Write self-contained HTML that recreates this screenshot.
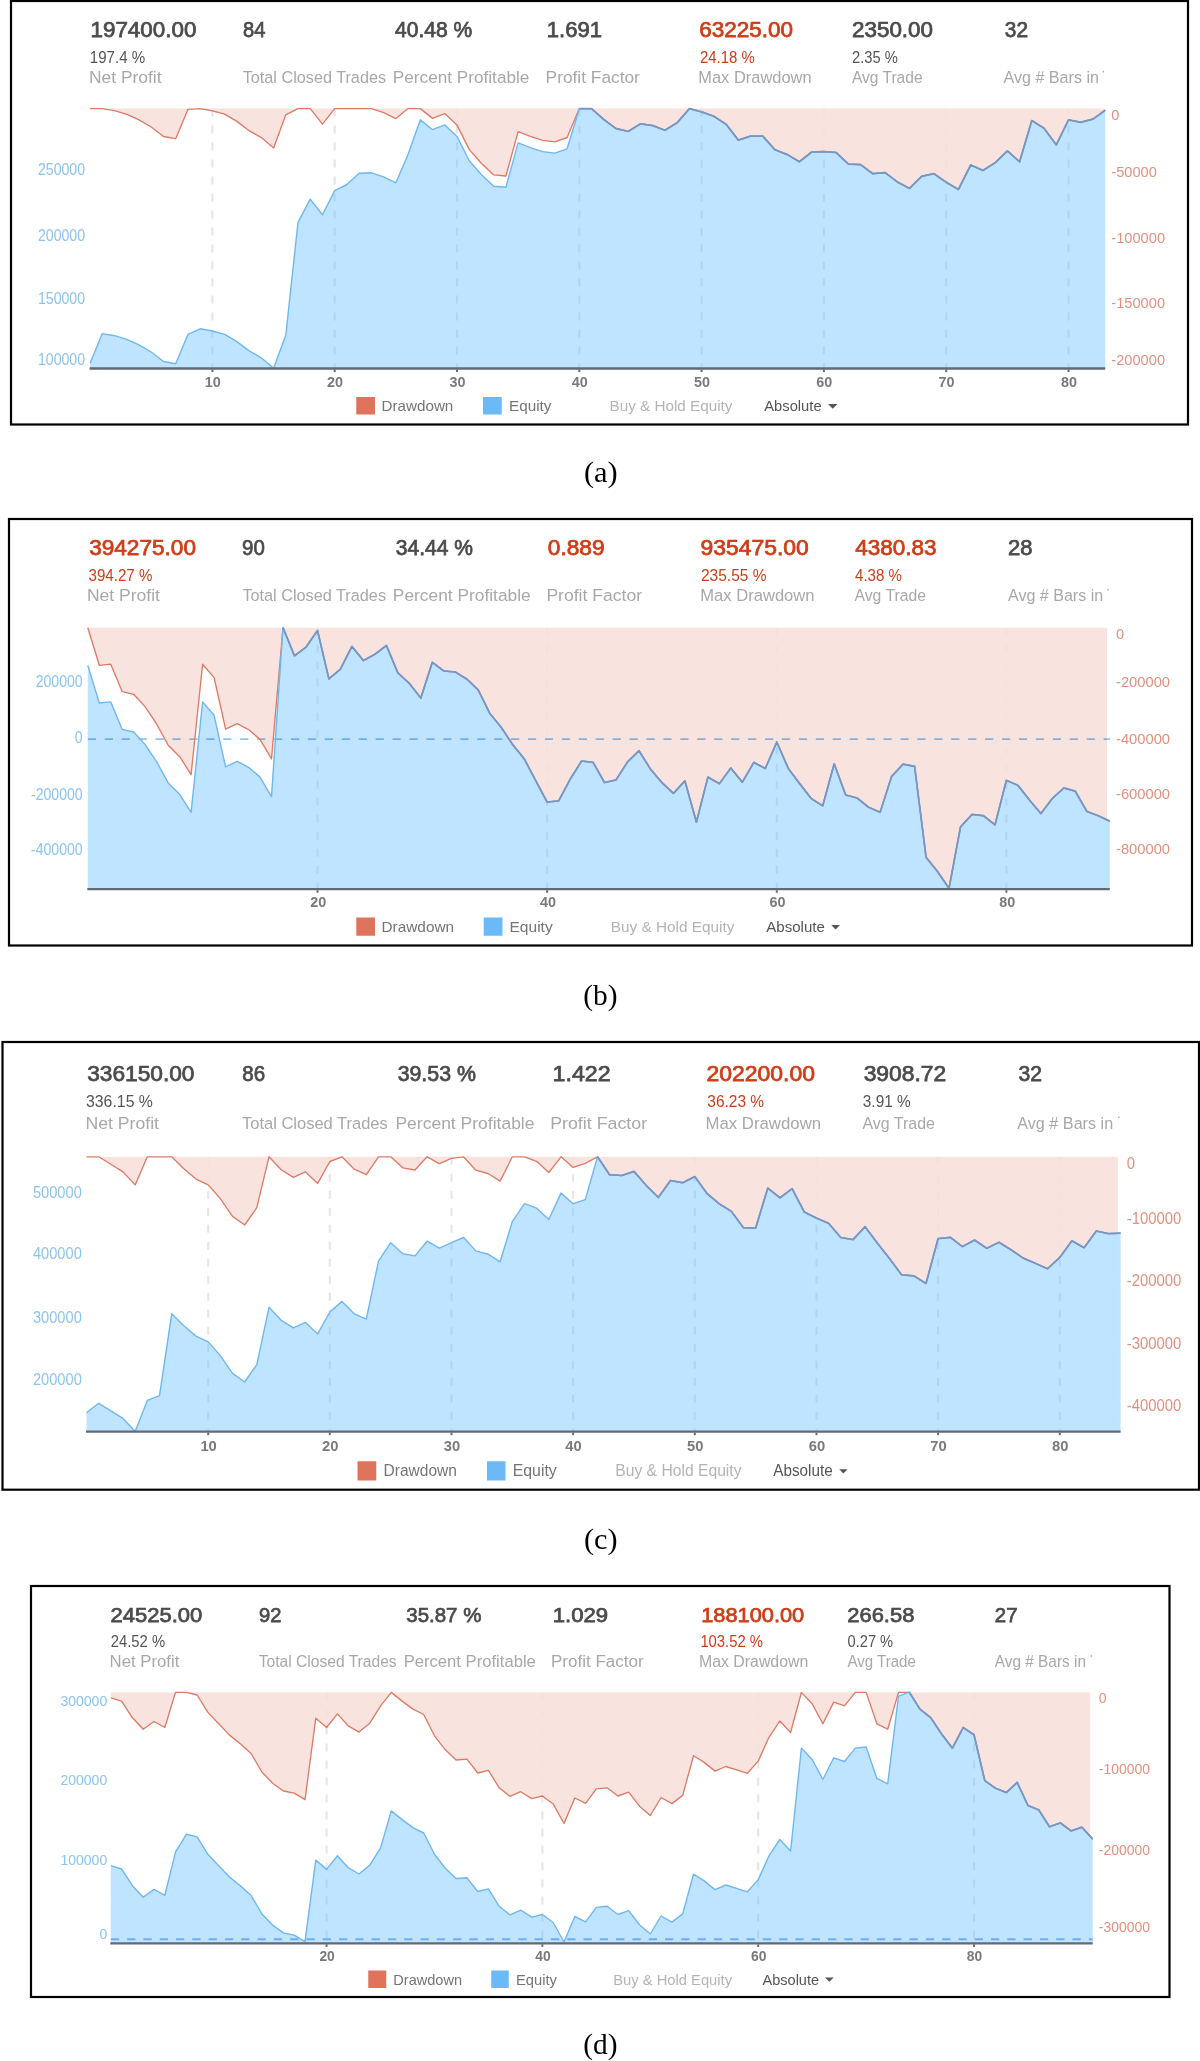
<!DOCTYPE html>
<html lang="en"><head><meta charset="utf-8"><title>Strategy performance: equity and drawdown</title>
<style>html,body{margin:0;padding:0;background:#fff}svg{display:block}text{white-space:pre}</style></head>
<body>
<svg width="1200" height="2061" viewBox="0 0 1200 2061">
<rect width="1200" height="2061" fill="#fff"/>
<g id="panel-a">
<rect x="11.0" y="1.0" width="1177.0" height="423.5" fill="#fff" stroke="#000" stroke-width="2.2"/>
<line x1="212.4" y1="108.6" x2="212.4" y2="368.5" stroke="#e6e6ea" stroke-width="2.1" stroke-dasharray="8 9"/>
<line x1="334.7" y1="108.6" x2="334.7" y2="368.5" stroke="#e6e6ea" stroke-width="2.1" stroke-dasharray="8 9"/>
<line x1="457.0" y1="108.6" x2="457.0" y2="368.5" stroke="#e6e6ea" stroke-width="2.1" stroke-dasharray="8 9"/>
<line x1="579.3" y1="108.6" x2="579.3" y2="368.5" stroke="#e6e6ea" stroke-width="2.1" stroke-dasharray="8 9"/>
<line x1="701.6" y1="108.6" x2="701.6" y2="368.5" stroke="#e6e6ea" stroke-width="2.1" stroke-dasharray="8 9"/>
<line x1="823.9" y1="108.6" x2="823.9" y2="368.5" stroke="#e6e6ea" stroke-width="2.1" stroke-dasharray="8 9"/>
<line x1="946.2" y1="108.6" x2="946.2" y2="368.5" stroke="#e6e6ea" stroke-width="2.1" stroke-dasharray="8 9"/>
<line x1="1068.5" y1="108.6" x2="1068.5" y2="368.5" stroke="#e6e6ea" stroke-width="2.1" stroke-dasharray="8 9"/>
<polygon fill="#f8dfd9" fill-opacity="0.88" points="90.1,108.6 1104.7,108.6 1104.7,110.5 1093.0,119.0 1080.7,122.2 1068.5,119.8 1056.3,144.8 1044.0,128.1 1031.8,120.5 1019.6,161.7 1007.4,150.8 995.1,162.7 982.9,170.3 970.7,164.9 958.4,189.4 946.2,182.2 934.0,173.6 921.7,176.2 909.5,188.3 897.3,181.8 885.1,172.5 872.8,173.6 860.6,164.5 848.4,164.0 836.1,152.4 823.9,151.5 811.7,151.9 799.4,161.7 787.2,154.5 775.0,149.7 762.8,136.1 750.5,136.1 738.3,140.0 726.1,124.2 713.8,116.2 701.6,111.8 689.4,108.6 677.1,122.7 664.9,130.2 652.7,125.5 640.5,123.7 628.2,131.3 616.0,128.5 603.8,119.4 591.5,108.6 579.3,108.6 567.1,137.5 554.8,141.8 542.6,140.3 530.4,136.4 518.1,131.6 505.9,176.0 493.7,174.9 481.5,163.5 469.2,149.4 457.0,125.1 444.8,113.6 432.5,118.4 420.3,108.6 408.1,108.6 395.9,118.6 383.6,112.7 371.4,108.6 359.2,108.6 346.9,108.6 334.7,108.6 322.5,124.2 310.2,108.6 298.0,108.6 285.8,114.8 273.6,148.0 261.3,137.6 249.1,130.7 236.9,121.4 224.6,114.2 212.4,110.8 200.2,108.6 187.9,109.4 175.7,138.7 163.5,136.5 151.2,127.0 139.0,119.8 126.8,114.4 114.6,110.7 102.3,108.6 90.1,108.6"/>
<polygon fill="#66bfff" fill-opacity="0.42" points="90.1,363.3 102.3,333.6 114.6,335.7 126.8,339.4 139.0,344.8 151.2,352.0 163.5,361.5 175.7,363.7 187.9,334.4 200.2,328.8 212.4,331.0 224.6,334.4 236.9,341.6 249.1,350.9 261.3,357.8 273.6,368.2 285.8,335.0 298.0,222.4 310.2,199.2 322.5,214.8 334.7,190.6 346.9,184.5 359.2,173.2 371.4,172.8 383.6,176.9 395.9,182.8 408.1,154.2 420.3,119.9 432.5,129.7 444.8,124.9 457.0,136.4 469.2,160.7 481.5,174.8 493.7,186.2 505.9,187.3 518.1,142.9 530.4,147.7 542.6,151.6 554.8,153.1 567.1,148.8 579.3,108.7 591.5,108.7 603.8,119.5 616.0,128.6 628.2,131.4 640.5,123.8 652.7,125.6 664.9,130.3 677.1,122.8 689.4,108.7 701.6,111.9 713.8,116.3 726.1,124.3 738.3,140.1 750.5,136.2 762.8,136.2 775.0,149.8 787.2,154.6 799.4,161.8 811.7,152.0 823.9,151.6 836.1,152.5 848.4,164.1 860.6,164.6 872.8,173.7 885.1,172.6 897.3,181.9 909.5,188.4 921.7,176.3 934.0,173.7 946.2,182.3 958.4,189.5 970.7,165.0 982.9,170.4 995.1,162.8 1007.4,150.9 1019.6,161.8 1031.8,120.6 1044.0,128.2 1056.3,144.9 1068.5,119.9 1080.7,122.3 1093.0,119.1 1105.2,110.2 1105.2,110.2 1105.2,368.5 90.1,368.5"/>
<polyline fill="none" stroke="#de7b67" stroke-width="1.35" stroke-linejoin="round" points="90.1,108.6 102.3,108.6 114.6,110.7 126.8,114.4 139.0,119.8 151.2,127.0 163.5,136.5 175.7,138.7 187.9,109.4 200.2,108.6 212.4,110.8 224.6,114.2 236.9,121.4 249.1,130.7 261.3,137.6 273.6,148.0 285.8,114.8 298.0,108.6 310.2,108.6 322.5,124.2 334.7,108.6 346.9,108.6 359.2,108.6 371.4,108.6 383.6,112.7 395.9,118.6 408.1,108.6 420.3,108.6 432.5,118.4 444.8,113.6 457.0,125.1 469.2,149.4 481.5,163.5 493.7,174.9 505.9,176.0 518.1,131.6 530.4,136.4 542.6,140.3 554.8,141.8 567.1,137.5 579.3,108.6 591.5,108.6 603.8,119.4 616.0,128.5 628.2,131.3 640.5,123.7 652.7,125.5 664.9,130.2 677.1,122.7 689.4,108.6 701.6,111.8 713.8,116.2 726.1,124.2 738.3,140.0 750.5,136.1 762.8,136.1 775.0,149.7 787.2,154.5 799.4,161.7 811.7,151.9 823.9,151.5 836.1,152.4 848.4,164.0 860.6,164.5 872.8,173.6 885.1,172.5 897.3,181.8 909.5,188.3 921.7,176.2 934.0,173.6 946.2,182.2 958.4,189.4 970.7,164.9 982.9,170.3 995.1,162.7 1007.4,150.8 1019.6,161.7 1031.8,120.5 1044.0,128.1 1056.3,144.8 1068.5,119.8 1080.7,122.2 1093.0,119.0 1105.2,110.1"/>
<polyline fill="none" stroke="#6fb7f3" stroke-width="1.4" stroke-linejoin="round" points="90.1,363.3 102.3,333.6 114.6,335.7 126.8,339.4 139.0,344.8 151.2,352.0 163.5,361.5 175.7,363.7 187.9,334.4 200.2,328.8 212.4,331.0 224.6,334.4 236.9,341.6 249.1,350.9 261.3,357.8 273.6,368.2 285.8,335.0 298.0,222.4 310.2,199.2 322.5,214.8 334.7,190.6 346.9,184.5 359.2,173.2 371.4,172.8 383.6,176.9 395.9,182.8 408.1,154.2 420.3,119.9 432.5,129.7 444.8,124.9 457.0,136.4 469.2,160.7 481.5,174.8 493.7,186.2 505.9,187.3 518.1,142.9 530.4,147.7 542.6,151.6 554.8,153.1 567.1,148.8 579.3,108.7 591.5,108.7 603.8,119.5 616.0,128.6 628.2,131.4 640.5,123.8 652.7,125.6 664.9,130.3 677.1,122.8 689.4,108.7 701.6,111.9 713.8,116.3 726.1,124.3 738.3,140.1 750.5,136.2 762.8,136.2 775.0,149.8 787.2,154.6 799.4,161.8 811.7,152.0 823.9,151.6 836.1,152.5 848.4,164.1 860.6,164.6 872.8,173.7 885.1,172.6 897.3,181.9 909.5,188.4 921.7,176.3 934.0,173.7 946.2,182.3 958.4,189.5 970.7,165.0 982.9,170.4 995.1,162.8 1007.4,150.9 1019.6,161.8 1031.8,120.6 1044.0,128.2 1056.3,144.9 1068.5,119.9 1080.7,122.3 1093.0,119.1 1105.2,110.2 1105.2,110.2"/>
<polyline fill="none" stroke="#7796c5" stroke-width="1.75" stroke-linejoin="round" points="579.3,108.7 591.5,108.7 603.8,119.5 616.0,128.6 628.2,131.4 640.5,123.8 652.7,125.6 664.9,130.3 677.1,122.8 689.4,108.7 701.6,111.9 713.8,116.3 726.1,124.3 738.3,140.1 750.5,136.2 762.8,136.2 775.0,149.8 787.2,154.6 799.4,161.8 811.7,152.0 823.9,151.6 836.1,152.5 848.4,164.1 860.6,164.6 872.8,173.7 885.1,172.6 897.3,181.9 909.5,188.4 921.7,176.3 934.0,173.7 946.2,182.3 958.4,189.5 970.7,165.0 982.9,170.4 995.1,162.8 1007.4,150.9 1019.6,161.8 1031.8,120.6 1044.0,128.2 1056.3,144.9 1068.5,119.9 1080.7,122.3 1093.0,119.1 1105.2,110.2"/>
<line x1="89.6" y1="368.5" x2="1105.2" y2="368.5" stroke="#626a73" stroke-width="2.3"/>
<line x1="212.4" y1="369.5" x2="212.4" y2="372.1" stroke="#6a6e74" stroke-width="2"/>
<line x1="334.7" y1="369.5" x2="334.7" y2="372.1" stroke="#6a6e74" stroke-width="2"/>
<line x1="457.0" y1="369.5" x2="457.0" y2="372.1" stroke="#6a6e74" stroke-width="2"/>
<line x1="579.3" y1="369.5" x2="579.3" y2="372.1" stroke="#6a6e74" stroke-width="2"/>
<line x1="701.6" y1="369.5" x2="701.6" y2="372.1" stroke="#6a6e74" stroke-width="2"/>
<line x1="823.9" y1="369.5" x2="823.9" y2="372.1" stroke="#6a6e74" stroke-width="2"/>
<line x1="946.2" y1="369.5" x2="946.2" y2="372.1" stroke="#6a6e74" stroke-width="2"/>
<line x1="1068.5" y1="369.5" x2="1068.5" y2="372.1" stroke="#6a6e74" stroke-width="2"/>
<rect x="356.25" y="397" width="18.75" height="17.50" fill="#e0735c"/>
<rect x="483" y="397" width="18.75" height="17.50" fill="#6bbaf7"/>
<polygon fill="#555" points="828,403.9 837.5,403.9 832.75,408.7"/>
<rect x="1102.7" y="70.8" width="1.4" height="1.6" fill="#a8a8a8"/>
</g>
<g id="panel-b">
<rect x="9.0" y="519.0" width="1183.0" height="426.5" fill="#fff" stroke="#000" stroke-width="2.2"/>
<line x1="317.5" y1="627.8" x2="317.5" y2="889.2" stroke="#e6e6ea" stroke-width="2.1" stroke-dasharray="8 9"/>
<line x1="547.1" y1="627.8" x2="547.1" y2="889.2" stroke="#e6e6ea" stroke-width="2.1" stroke-dasharray="8 9"/>
<line x1="776.8" y1="627.8" x2="776.8" y2="889.2" stroke="#e6e6ea" stroke-width="2.1" stroke-dasharray="8 9"/>
<line x1="1006.4" y1="627.8" x2="1006.4" y2="889.2" stroke="#e6e6ea" stroke-width="2.1" stroke-dasharray="8 9"/>
<polygon fill="#f8dfd9" fill-opacity="0.88" points="87.8,627.8 1107.0,627.8 1107.0,820.0 1098.3,815.9 1086.8,811.5 1075.3,791.4 1063.9,788.1 1052.4,798.5 1040.9,813.7 1029.4,800.1 1017.9,785.5 1006.4,780.5 995.0,825.0 983.5,815.9 972.0,814.6 960.5,827.1 949.0,888.5 937.5,871.6 926.1,857.5 914.6,766.5 903.1,764.3 891.6,776.6 880.1,812.4 868.6,807.4 857.2,798.2 845.7,795.2 834.2,764.0 822.7,806.0 811.2,798.7 799.7,783.8 788.3,768.6 776.8,742.2 765.3,768.6 753.8,762.6 742.3,782.3 730.8,768.2 719.4,783.8 707.9,777.3 696.4,822.2 684.9,781.0 673.4,793.5 661.9,782.7 650.5,769.3 639.0,750.9 627.5,762.1 616.0,780.1 604.5,782.7 593.1,762.5 581.6,761.2 570.1,779.5 558.6,801.1 547.1,802.2 535.6,780.5 524.2,758.9 512.7,744.8 501.2,727.5 489.7,713.4 478.2,690.0 466.7,679.1 455.3,672.2 443.8,671.1 432.3,662.5 420.8,698.2 409.3,683.5 397.8,672.9 386.4,645.6 374.9,654.4 363.4,660.7 351.9,646.6 340.4,669.3 328.9,679.1 317.5,630.6 306.0,647.3 294.5,656.0 283.0,627.8 271.5,758.9 260.0,739.4 248.6,729.6 237.1,723.6 225.6,729.2 214.1,677.6 202.6,664.2 191.1,774.7 179.7,756.7 168.2,745.2 156.7,724.2 145.2,706.9 133.7,694.3 122.2,691.7 110.8,664.2 99.3,665.3 87.8,627.8"/>
<polygon fill="#66bfff" fill-opacity="0.42" points="87.8,665.5 99.3,703.0 110.8,701.9 122.2,729.4 133.7,732.0 145.2,744.6 156.7,761.9 168.2,782.9 179.7,794.4 191.1,812.4 202.6,701.9 214.1,715.3 225.6,766.9 237.1,761.3 248.6,767.3 260.0,777.1 271.5,796.6 283.0,627.6 294.5,655.8 306.0,647.1 317.5,630.4 328.9,678.9 340.4,669.1 351.9,646.4 363.4,660.5 374.9,654.2 386.4,645.4 397.8,672.7 409.3,683.3 420.8,698.0 432.3,662.3 443.8,670.9 455.3,672.0 466.7,678.9 478.2,689.8 489.7,713.2 501.2,727.3 512.7,744.6 524.2,758.7 535.6,780.3 547.1,802.0 558.6,800.9 570.1,779.3 581.6,761.0 593.1,762.3 604.5,782.5 616.0,779.9 627.5,761.9 639.0,750.7 650.5,769.1 661.9,782.5 673.4,793.3 684.9,780.8 696.4,822.0 707.9,777.1 719.4,783.6 730.8,768.0 742.3,782.1 753.8,762.4 765.3,768.4 776.8,742.0 788.3,768.4 799.7,783.6 811.2,798.5 822.7,805.8 834.2,763.8 845.7,795.0 857.2,798.0 868.6,807.2 880.1,812.2 891.6,776.4 903.1,764.1 914.6,766.3 926.1,857.3 937.5,871.4 949.0,888.3 960.5,826.9 972.0,814.4 983.5,815.7 995.0,824.8 1006.4,780.3 1017.9,785.3 1029.4,799.9 1040.9,813.5 1052.4,798.3 1063.9,787.9 1075.3,791.2 1086.8,811.3 1098.3,815.7 1109.8,821.1 1109.8,821.1 1109.8,889.2 87.8,889.2"/>
<line x1="87.8" y1="739.1" x2="1109.8" y2="739.1" stroke="#8cc3fa" stroke-width="1.9" stroke-dasharray="8.2 8.73" style="mix-blend-mode:multiply"/>
<polyline fill="none" stroke="#de7b67" stroke-width="1.35" stroke-linejoin="round" points="87.8,627.8 99.3,665.3 110.8,664.2 122.2,691.7 133.7,694.3 145.2,706.9 156.7,724.2 168.2,745.2 179.7,756.7 191.1,774.7 202.6,664.2 214.1,677.6 225.6,729.2 237.1,723.6 248.6,729.6 260.0,739.4 271.5,758.9 283.0,627.8 294.5,656.0 306.0,647.3 317.5,630.6 328.9,679.1 340.4,669.3 351.9,646.6 363.4,660.7 374.9,654.4 386.4,645.6 397.8,672.9 409.3,683.5 420.8,698.2 432.3,662.5 443.8,671.1 455.3,672.2 466.7,679.1 478.2,690.0 489.7,713.4 501.2,727.5 512.7,744.8 524.2,758.9 535.6,780.5 547.1,802.2 558.6,801.1 570.1,779.5 581.6,761.2 593.1,762.5 604.5,782.7 616.0,780.1 627.5,762.1 639.0,750.9 650.5,769.3 661.9,782.7 673.4,793.5 684.9,781.0 696.4,822.2 707.9,777.3 719.4,783.8 730.8,768.2 742.3,782.3 753.8,762.6 765.3,768.6 776.8,742.2 788.3,768.6 799.7,783.8 811.2,798.7 822.7,806.0 834.2,764.0 845.7,795.2 857.2,798.2 868.6,807.4 880.1,812.4 891.6,776.6 903.1,764.3 914.6,766.5 926.1,857.5 937.5,871.6 949.0,888.5 960.5,827.1 972.0,814.6 983.5,815.9 995.0,825.0 1006.4,780.5 1017.9,785.5 1029.4,800.1 1040.9,813.7 1052.4,798.5 1063.9,788.1 1075.3,791.4 1086.8,811.5 1098.3,815.9 1109.8,821.3"/>
<polyline fill="none" stroke="#6fb7f3" stroke-width="1.4" stroke-linejoin="round" points="87.8,665.5 99.3,703.0 110.8,701.9 122.2,729.4 133.7,732.0 145.2,744.6 156.7,761.9 168.2,782.9 179.7,794.4 191.1,812.4 202.6,701.9 214.1,715.3 225.6,766.9 237.1,761.3 248.6,767.3 260.0,777.1 271.5,796.6 283.0,627.6 294.5,655.8 306.0,647.1 317.5,630.4 328.9,678.9 340.4,669.1 351.9,646.4 363.4,660.5 374.9,654.2 386.4,645.4 397.8,672.7 409.3,683.3 420.8,698.0 432.3,662.3 443.8,670.9 455.3,672.0 466.7,678.9 478.2,689.8 489.7,713.2 501.2,727.3 512.7,744.6 524.2,758.7 535.6,780.3 547.1,802.0 558.6,800.9 570.1,779.3 581.6,761.0 593.1,762.3 604.5,782.5 616.0,779.9 627.5,761.9 639.0,750.7 650.5,769.1 661.9,782.5 673.4,793.3 684.9,780.8 696.4,822.0 707.9,777.1 719.4,783.6 730.8,768.0 742.3,782.1 753.8,762.4 765.3,768.4 776.8,742.0 788.3,768.4 799.7,783.6 811.2,798.5 822.7,805.8 834.2,763.8 845.7,795.0 857.2,798.0 868.6,807.2 880.1,812.2 891.6,776.4 903.1,764.1 914.6,766.3 926.1,857.3 937.5,871.4 949.0,888.3 960.5,826.9 972.0,814.4 983.5,815.7 995.0,824.8 1006.4,780.3 1017.9,785.3 1029.4,799.9 1040.9,813.5 1052.4,798.3 1063.9,787.9 1075.3,791.2 1086.8,811.3 1098.3,815.7 1109.8,821.1 1109.8,821.1"/>
<polyline fill="none" stroke="#7796c5" stroke-width="1.75" stroke-linejoin="round" points="283.0,627.6 294.5,655.8 306.0,647.1 317.5,630.4 328.9,678.9 340.4,669.1 351.9,646.4 363.4,660.5 374.9,654.2 386.4,645.4 397.8,672.7 409.3,683.3 420.8,698.0 432.3,662.3 443.8,670.9 455.3,672.0 466.7,678.9 478.2,689.8 489.7,713.2 501.2,727.3 512.7,744.6 524.2,758.7 535.6,780.3 547.1,802.0 558.6,800.9 570.1,779.3 581.6,761.0 593.1,762.3 604.5,782.5 616.0,779.9 627.5,761.9 639.0,750.7 650.5,769.1 661.9,782.5 673.4,793.3 684.9,780.8 696.4,822.0 707.9,777.1 719.4,783.6 730.8,768.0 742.3,782.1 753.8,762.4 765.3,768.4 776.8,742.0 788.3,768.4 799.7,783.6 811.2,798.5 822.7,805.8 834.2,763.8 845.7,795.0 857.2,798.0 868.6,807.2 880.1,812.2 891.6,776.4 903.1,764.1 914.6,766.3 926.1,857.3 937.5,871.4 949.0,888.3 960.5,826.9 972.0,814.4 983.5,815.7 995.0,824.8 1006.4,780.3 1017.9,785.3 1029.4,799.9 1040.9,813.5 1052.4,798.3 1063.9,787.9 1075.3,791.2 1086.8,811.3 1098.3,815.7 1109.8,821.1"/>
<line x1="87.3" y1="889.2" x2="1109.8" y2="889.2" stroke="#626a73" stroke-width="2.3"/>
<line x1="317.5" y1="890.2" x2="317.5" y2="892.8" stroke="#6a6e74" stroke-width="2"/>
<line x1="547.1" y1="890.2" x2="547.1" y2="892.8" stroke="#6a6e74" stroke-width="2"/>
<line x1="776.8" y1="890.2" x2="776.8" y2="892.8" stroke="#6a6e74" stroke-width="2"/>
<line x1="1006.4" y1="890.2" x2="1006.4" y2="892.8" stroke="#6a6e74" stroke-width="2"/>
<rect x="356.25" y="917.5" width="18.75" height="18.25" fill="#e0735c"/>
<rect x="483.75" y="917.5" width="18.75" height="18.25" fill="#6bbaf7"/>
<polygon fill="#555" points="831.25,925 840,925 835.62,929.6"/>
<rect x="1107.2" y="588.8" width="1.4" height="1.6" fill="#a8a8a8"/>
</g>
<g id="panel-c">
<rect x="2.5" y="1042.0" width="1196.5" height="447.7" fill="#fff" stroke="#000" stroke-width="2.2"/>
<line x1="208.2" y1="1156.8" x2="208.2" y2="1431.6" stroke="#e6e6ea" stroke-width="2.1" stroke-dasharray="8 9"/>
<line x1="329.8" y1="1156.8" x2="329.8" y2="1431.6" stroke="#e6e6ea" stroke-width="2.1" stroke-dasharray="8 9"/>
<line x1="451.5" y1="1156.8" x2="451.5" y2="1431.6" stroke="#e6e6ea" stroke-width="2.1" stroke-dasharray="8 9"/>
<line x1="573.1" y1="1156.8" x2="573.1" y2="1431.6" stroke="#e6e6ea" stroke-width="2.1" stroke-dasharray="8 9"/>
<line x1="694.8" y1="1156.8" x2="694.8" y2="1431.6" stroke="#e6e6ea" stroke-width="2.1" stroke-dasharray="8 9"/>
<line x1="816.5" y1="1156.8" x2="816.5" y2="1431.6" stroke="#e6e6ea" stroke-width="2.1" stroke-dasharray="8 9"/>
<line x1="938.1" y1="1156.8" x2="938.1" y2="1431.6" stroke="#e6e6ea" stroke-width="2.1" stroke-dasharray="8 9"/>
<line x1="1059.8" y1="1156.8" x2="1059.8" y2="1431.6" stroke="#e6e6ea" stroke-width="2.1" stroke-dasharray="8 9"/>
<polygon fill="#f8dfd9" fill-opacity="0.88" points="86.5,1156.8 1117.8,1156.8 1117.8,1233.4 1108.4,1233.7 1096.3,1231.1 1084.1,1247.8 1071.9,1240.8 1059.8,1257.5 1047.6,1268.8 1035.4,1263.4 1023.3,1258.2 1011.1,1249.9 999.0,1242.4 986.8,1248.4 974.6,1240.2 962.5,1246.7 950.3,1237.4 938.1,1238.7 926.0,1283.5 913.8,1275.9 901.6,1274.9 889.5,1258.6 877.3,1243.1 865.1,1226.8 853.0,1239.7 840.8,1237.6 828.6,1223.4 816.5,1218.2 804.3,1212.1 792.1,1188.7 780.0,1197.9 767.8,1188.2 755.6,1228.3 743.5,1227.8 731.3,1211.4 719.1,1203.8 707.0,1193.6 694.8,1176.7 682.6,1182.8 670.5,1180.6 658.3,1197.5 646.1,1185.4 634.0,1171.5 621.8,1175.6 609.6,1174.8 597.5,1156.8 585.3,1163.3 573.1,1167.4 561.0,1156.8 548.8,1172.6 536.6,1161.3 524.5,1156.8 512.3,1156.8 500.1,1181.1 488.0,1173.5 475.8,1170.2 463.6,1156.8 451.5,1158.3 439.3,1163.7 427.1,1156.8 415.0,1170.0 402.8,1167.8 390.7,1156.8 378.5,1156.8 366.3,1174.6 354.2,1169.2 342.0,1156.8 329.8,1161.5 317.7,1183.4 305.5,1171.9 293.3,1177.4 281.2,1169.8 269.0,1156.8 256.8,1207.7 244.7,1225.0 232.5,1216.4 220.3,1198.6 208.2,1184.9 196.0,1179.1 183.8,1168.7 171.7,1156.8 159.5,1156.8 147.3,1156.8 135.2,1184.9 123.0,1171.9 110.8,1164.3 98.7,1156.8 86.5,1156.8"/>
<polygon fill="#66bfff" fill-opacity="0.42" points="86.5,1412.8 98.7,1403.3 110.8,1410.8 123.0,1418.4 135.2,1431.4 147.3,1400.4 159.5,1395.7 171.7,1313.8 183.8,1325.7 196.0,1336.1 208.2,1341.9 220.3,1355.6 232.5,1373.4 244.7,1382.0 256.8,1364.7 269.0,1307.3 281.2,1320.3 293.3,1327.9 305.5,1322.4 317.7,1333.9 329.8,1312.0 342.0,1301.4 354.2,1313.8 366.3,1319.2 378.5,1261.1 390.7,1242.7 402.8,1253.7 415.0,1255.9 427.1,1241.2 439.3,1248.1 451.5,1242.7 463.6,1237.5 475.8,1250.9 488.0,1254.2 500.1,1261.8 512.3,1221.7 524.5,1203.7 536.6,1208.2 548.8,1219.5 561.0,1193.1 573.1,1203.7 585.3,1199.6 597.5,1156.7 609.6,1174.7 621.8,1175.5 634.0,1171.4 646.1,1185.3 658.3,1197.4 670.5,1180.5 682.6,1182.7 694.8,1176.6 707.0,1193.5 719.1,1203.7 731.3,1211.3 743.5,1227.7 755.6,1228.2 767.8,1188.1 780.0,1197.8 792.1,1188.6 804.3,1212.0 816.5,1218.1 828.6,1223.3 840.8,1237.5 853.0,1239.6 865.1,1226.7 877.3,1243.0 889.5,1258.5 901.6,1274.8 913.8,1275.8 926.0,1283.4 938.1,1238.6 950.3,1237.3 962.5,1246.6 974.6,1240.1 986.8,1248.3 999.0,1242.3 1011.1,1249.8 1023.3,1258.1 1035.4,1263.3 1047.6,1268.7 1059.8,1257.4 1071.9,1240.7 1084.1,1247.7 1096.3,1231.0 1108.4,1233.6 1120.6,1233.2 1120.6,1233.2 1120.6,1431.6 86.5,1431.6"/>
<polyline fill="none" stroke="#de7b67" stroke-width="1.35" stroke-linejoin="round" points="86.5,1156.8 98.7,1156.8 110.8,1164.3 123.0,1171.9 135.2,1184.9 147.3,1156.8 159.5,1156.8 171.7,1156.8 183.8,1168.7 196.0,1179.1 208.2,1184.9 220.3,1198.6 232.5,1216.4 244.7,1225.0 256.8,1207.7 269.0,1156.8 281.2,1169.8 293.3,1177.4 305.5,1171.9 317.7,1183.4 329.8,1161.5 342.0,1156.8 354.2,1169.2 366.3,1174.6 378.5,1156.8 390.7,1156.8 402.8,1167.8 415.0,1170.0 427.1,1156.8 439.3,1163.7 451.5,1158.3 463.6,1156.8 475.8,1170.2 488.0,1173.5 500.1,1181.1 512.3,1156.8 524.5,1156.8 536.6,1161.3 548.8,1172.6 561.0,1156.8 573.1,1167.4 585.3,1163.3 597.5,1156.8 609.6,1174.8 621.8,1175.6 634.0,1171.5 646.1,1185.4 658.3,1197.5 670.5,1180.6 682.6,1182.8 694.8,1176.7 707.0,1193.6 719.1,1203.8 731.3,1211.4 743.5,1227.8 755.6,1228.3 767.8,1188.2 780.0,1197.9 792.1,1188.7 804.3,1212.1 816.5,1218.2 828.6,1223.4 840.8,1237.6 853.0,1239.7 865.1,1226.8 877.3,1243.1 889.5,1258.6 901.6,1274.9 913.8,1275.9 926.0,1283.5 938.1,1238.7 950.3,1237.4 962.5,1246.7 974.6,1240.2 986.8,1248.4 999.0,1242.4 1011.1,1249.9 1023.3,1258.2 1035.4,1263.4 1047.6,1268.8 1059.8,1257.5 1071.9,1240.8 1084.1,1247.8 1096.3,1231.1 1108.4,1233.7 1120.6,1233.3"/>
<polyline fill="none" stroke="#6fb7f3" stroke-width="1.4" stroke-linejoin="round" points="86.5,1412.8 98.7,1403.3 110.8,1410.8 123.0,1418.4 135.2,1431.4 147.3,1400.4 159.5,1395.7 171.7,1313.8 183.8,1325.7 196.0,1336.1 208.2,1341.9 220.3,1355.6 232.5,1373.4 244.7,1382.0 256.8,1364.7 269.0,1307.3 281.2,1320.3 293.3,1327.9 305.5,1322.4 317.7,1333.9 329.8,1312.0 342.0,1301.4 354.2,1313.8 366.3,1319.2 378.5,1261.1 390.7,1242.7 402.8,1253.7 415.0,1255.9 427.1,1241.2 439.3,1248.1 451.5,1242.7 463.6,1237.5 475.8,1250.9 488.0,1254.2 500.1,1261.8 512.3,1221.7 524.5,1203.7 536.6,1208.2 548.8,1219.5 561.0,1193.1 573.1,1203.7 585.3,1199.6 597.5,1156.7 609.6,1174.7 621.8,1175.5 634.0,1171.4 646.1,1185.3 658.3,1197.4 670.5,1180.5 682.6,1182.7 694.8,1176.6 707.0,1193.5 719.1,1203.7 731.3,1211.3 743.5,1227.7 755.6,1228.2 767.8,1188.1 780.0,1197.8 792.1,1188.6 804.3,1212.0 816.5,1218.1 828.6,1223.3 840.8,1237.5 853.0,1239.6 865.1,1226.7 877.3,1243.0 889.5,1258.5 901.6,1274.8 913.8,1275.8 926.0,1283.4 938.1,1238.6 950.3,1237.3 962.5,1246.6 974.6,1240.1 986.8,1248.3 999.0,1242.3 1011.1,1249.8 1023.3,1258.1 1035.4,1263.3 1047.6,1268.7 1059.8,1257.4 1071.9,1240.7 1084.1,1247.7 1096.3,1231.0 1108.4,1233.6 1120.6,1233.2 1120.6,1233.2"/>
<polyline fill="none" stroke="#7796c5" stroke-width="1.75" stroke-linejoin="round" points="597.5,1156.7 609.6,1174.7 621.8,1175.5 634.0,1171.4 646.1,1185.3 658.3,1197.4 670.5,1180.5 682.6,1182.7 694.8,1176.6 707.0,1193.5 719.1,1203.7 731.3,1211.3 743.5,1227.7 755.6,1228.2 767.8,1188.1 780.0,1197.8 792.1,1188.6 804.3,1212.0 816.5,1218.1 828.6,1223.3 840.8,1237.5 853.0,1239.6 865.1,1226.7 877.3,1243.0 889.5,1258.5 901.6,1274.8 913.8,1275.8 926.0,1283.4 938.1,1238.6 950.3,1237.3 962.5,1246.6 974.6,1240.1 986.8,1248.3 999.0,1242.3 1011.1,1249.8 1023.3,1258.1 1035.4,1263.3 1047.6,1268.7 1059.8,1257.4 1071.9,1240.7 1084.1,1247.7 1096.3,1231.0 1108.4,1233.6 1120.6,1233.2"/>
<line x1="86.0" y1="1431.6" x2="1120.6" y2="1431.6" stroke="#626a73" stroke-width="2.3"/>
<line x1="208.2" y1="1432.6" x2="208.2" y2="1435.2" stroke="#6a6e74" stroke-width="2"/>
<line x1="329.8" y1="1432.6" x2="329.8" y2="1435.2" stroke="#6a6e74" stroke-width="2"/>
<line x1="451.5" y1="1432.6" x2="451.5" y2="1435.2" stroke="#6a6e74" stroke-width="2"/>
<line x1="573.1" y1="1432.6" x2="573.1" y2="1435.2" stroke="#6a6e74" stroke-width="2"/>
<line x1="694.8" y1="1432.6" x2="694.8" y2="1435.2" stroke="#6a6e74" stroke-width="2"/>
<line x1="816.5" y1="1432.6" x2="816.5" y2="1435.2" stroke="#6a6e74" stroke-width="2"/>
<line x1="938.1" y1="1432.6" x2="938.1" y2="1435.2" stroke="#6a6e74" stroke-width="2"/>
<line x1="1059.8" y1="1432.6" x2="1059.8" y2="1435.2" stroke="#6a6e74" stroke-width="2"/>
<rect x="357.5" y="1461.25" width="18.75" height="19.25" fill="#e0735c"/>
<rect x="487" y="1461.25" width="18.50" height="19.25" fill="#6bbaf7"/>
<polygon fill="#555" points="839.25,1469.3 847.5,1469.3 843.38,1473.6"/>
<rect x="1118.1" y="1116.5" width="1.4" height="1.6" fill="#a8a8a8"/>
</g>
<g id="panel-d">
<rect x="31.0" y="1586.0" width="1138.5" height="411.0" fill="#fff" stroke="#000" stroke-width="2.2"/>
<line x1="326.6" y1="1692.4" x2="326.6" y2="1943.3" stroke="#e6e6ea" stroke-width="2.1" stroke-dasharray="8 9"/>
<line x1="542.4" y1="1692.4" x2="542.4" y2="1943.3" stroke="#e6e6ea" stroke-width="2.1" stroke-dasharray="8 9"/>
<line x1="758.2" y1="1692.4" x2="758.2" y2="1943.3" stroke="#e6e6ea" stroke-width="2.1" stroke-dasharray="8 9"/>
<line x1="974.0" y1="1692.4" x2="974.0" y2="1943.3" stroke="#e6e6ea" stroke-width="2.1" stroke-dasharray="8 9"/>
<polygon fill="#f8dfd9" fill-opacity="0.88" points="110.8,1692.4 1090.2,1692.4 1090.2,1836.6 1081.9,1827.4 1071.1,1831.1 1060.3,1823.0 1049.5,1826.9 1038.7,1810.0 1028.0,1805.7 1017.2,1782.5 1006.4,1792.7 995.6,1788.4 984.8,1780.8 974.0,1734.9 963.2,1727.7 952.4,1748.3 941.6,1734.2 930.8,1718.0 920.0,1709.3 909.3,1692.4 898.5,1692.4 887.7,1729.2 876.9,1723.8 866.1,1692.4 855.3,1692.4 844.5,1705.8 833.7,1702.1 822.9,1723.8 812.1,1703.7 801.4,1692.4 790.6,1732.5 779.8,1721.0 769.0,1737.3 758.2,1761.1 747.4,1773.3 736.6,1769.8 725.8,1766.5 715.0,1771.1 704.2,1762.4 693.5,1755.7 682.7,1795.4 671.9,1803.6 661.1,1797.5 650.3,1815.5 639.5,1806.2 628.7,1792.1 617.9,1796.0 607.1,1787.8 596.3,1788.9 585.6,1803.4 574.8,1798.0 564.0,1823.5 553.2,1804.0 542.4,1796.0 531.6,1798.6 520.8,1791.7 510.0,1796.4 499.2,1787.8 488.4,1770.4 477.7,1773.0 466.9,1759.2 456.1,1760.0 445.3,1749.8 434.5,1735.8 423.7,1714.5 412.9,1709.1 402.1,1701.1 391.3,1692.4 380.6,1705.9 369.8,1723.2 359.0,1732.1 348.2,1725.8 337.4,1713.9 326.6,1727.5 315.8,1718.2 305.0,1799.7 294.2,1793.2 283.4,1791.0 272.6,1783.2 261.9,1772.0 251.1,1753.5 240.3,1743.8 229.5,1735.1 218.7,1723.8 207.9,1712.4 197.1,1695.0 186.3,1692.4 175.5,1692.4 164.8,1727.5 154.0,1721.5 143.2,1729.3 132.4,1717.8 121.6,1701.1 110.8,1697.8"/>
<polygon fill="#66bfff" fill-opacity="0.42" points="110.8,1865.7 121.6,1869.0 132.4,1885.7 143.2,1897.2 154.0,1889.4 164.8,1895.4 175.5,1852.1 186.3,1834.3 197.1,1836.9 207.9,1854.3 218.7,1865.7 229.5,1877.0 240.3,1885.7 251.1,1895.4 261.9,1913.9 272.6,1925.1 283.4,1932.9 294.2,1935.1 305.0,1941.6 315.8,1860.1 326.6,1869.4 337.4,1855.8 348.2,1867.7 359.0,1874.0 369.8,1865.1 380.6,1847.8 391.3,1810.9 402.1,1819.6 412.9,1827.6 423.7,1833.0 434.5,1854.3 445.3,1868.3 456.1,1878.5 466.9,1877.7 477.7,1891.5 488.4,1888.9 499.2,1906.3 510.0,1914.9 520.8,1910.2 531.6,1917.1 542.4,1914.5 553.2,1922.5 564.0,1942.0 574.8,1916.5 585.6,1921.9 596.3,1907.4 607.1,1906.3 617.9,1914.5 628.7,1910.6 639.5,1924.7 650.3,1934.0 661.1,1916.0 671.9,1922.1 682.7,1913.9 693.5,1874.2 704.2,1880.9 715.0,1889.6 725.8,1885.0 736.6,1888.3 747.4,1891.8 758.2,1879.6 769.0,1855.8 779.8,1839.5 790.6,1851.0 801.4,1748.1 812.1,1759.4 822.9,1779.5 833.7,1757.8 844.5,1761.5 855.3,1748.1 866.1,1747.0 876.9,1778.4 887.7,1783.8 898.5,1696.1 909.3,1692.2 920.0,1709.1 930.8,1717.8 941.6,1734.0 952.4,1748.1 963.2,1727.5 974.0,1734.7 984.8,1780.6 995.6,1788.2 1006.4,1792.5 1017.2,1782.3 1028.0,1805.5 1038.7,1809.8 1049.5,1826.7 1060.3,1822.8 1071.1,1830.9 1081.9,1827.2 1092.7,1839.1 1092.7,1839.1 1092.7,1943.3 110.8,1943.3"/>
<line x1="110.8" y1="1939.2" x2="1092.7" y2="1939.2" stroke="#8cc3fa" stroke-width="1.9" stroke-dasharray="8.3 8" style="mix-blend-mode:multiply"/>
<polyline fill="none" stroke="#de7b67" stroke-width="1.35" stroke-linejoin="round" points="110.8,1697.8 121.6,1701.1 132.4,1717.8 143.2,1729.3 154.0,1721.5 164.8,1727.5 175.5,1692.4 186.3,1692.4 197.1,1695.0 207.9,1712.4 218.7,1723.8 229.5,1735.1 240.3,1743.8 251.1,1753.5 261.9,1772.0 272.6,1783.2 283.4,1791.0 294.2,1793.2 305.0,1799.7 315.8,1718.2 326.6,1727.5 337.4,1713.9 348.2,1725.8 359.0,1732.1 369.8,1723.2 380.6,1705.9 391.3,1692.4 402.1,1701.1 412.9,1709.1 423.7,1714.5 434.5,1735.8 445.3,1749.8 456.1,1760.0 466.9,1759.2 477.7,1773.0 488.4,1770.4 499.2,1787.8 510.0,1796.4 520.8,1791.7 531.6,1798.6 542.4,1796.0 553.2,1804.0 564.0,1823.5 574.8,1798.0 585.6,1803.4 596.3,1788.9 607.1,1787.8 617.9,1796.0 628.7,1792.1 639.5,1806.2 650.3,1815.5 661.1,1797.5 671.9,1803.6 682.7,1795.4 693.5,1755.7 704.2,1762.4 715.0,1771.1 725.8,1766.5 736.6,1769.8 747.4,1773.3 758.2,1761.1 769.0,1737.3 779.8,1721.0 790.6,1732.5 801.4,1692.4 812.1,1703.7 822.9,1723.8 833.7,1702.1 844.5,1705.8 855.3,1692.4 866.1,1692.4 876.9,1723.8 887.7,1729.2 898.5,1692.4 909.3,1692.4 920.0,1709.3 930.8,1718.0 941.6,1734.2 952.4,1748.3 963.2,1727.7 974.0,1734.9 984.8,1780.8 995.6,1788.4 1006.4,1792.7 1017.2,1782.5 1028.0,1805.7 1038.7,1810.0 1049.5,1826.9 1060.3,1823.0 1071.1,1831.1 1081.9,1827.4 1092.7,1839.3"/>
<polyline fill="none" stroke="#6fb7f3" stroke-width="1.4" stroke-linejoin="round" points="110.8,1865.7 121.6,1869.0 132.4,1885.7 143.2,1897.2 154.0,1889.4 164.8,1895.4 175.5,1852.1 186.3,1834.3 197.1,1836.9 207.9,1854.3 218.7,1865.7 229.5,1877.0 240.3,1885.7 251.1,1895.4 261.9,1913.9 272.6,1925.1 283.4,1932.9 294.2,1935.1 305.0,1941.6 315.8,1860.1 326.6,1869.4 337.4,1855.8 348.2,1867.7 359.0,1874.0 369.8,1865.1 380.6,1847.8 391.3,1810.9 402.1,1819.6 412.9,1827.6 423.7,1833.0 434.5,1854.3 445.3,1868.3 456.1,1878.5 466.9,1877.7 477.7,1891.5 488.4,1888.9 499.2,1906.3 510.0,1914.9 520.8,1910.2 531.6,1917.1 542.4,1914.5 553.2,1922.5 564.0,1942.0 574.8,1916.5 585.6,1921.9 596.3,1907.4 607.1,1906.3 617.9,1914.5 628.7,1910.6 639.5,1924.7 650.3,1934.0 661.1,1916.0 671.9,1922.1 682.7,1913.9 693.5,1874.2 704.2,1880.9 715.0,1889.6 725.8,1885.0 736.6,1888.3 747.4,1891.8 758.2,1879.6 769.0,1855.8 779.8,1839.5 790.6,1851.0 801.4,1748.1 812.1,1759.4 822.9,1779.5 833.7,1757.8 844.5,1761.5 855.3,1748.1 866.1,1747.0 876.9,1778.4 887.7,1783.8 898.5,1696.1 909.3,1692.2 920.0,1709.1 930.8,1717.8 941.6,1734.0 952.4,1748.1 963.2,1727.5 974.0,1734.7 984.8,1780.6 995.6,1788.2 1006.4,1792.5 1017.2,1782.3 1028.0,1805.5 1038.7,1809.8 1049.5,1826.7 1060.3,1822.8 1071.1,1830.9 1081.9,1827.2 1092.7,1839.1 1092.7,1839.1"/>
<polyline fill="none" stroke="#7796c5" stroke-width="1.75" stroke-linejoin="round" points="909.3,1692.2 920.0,1709.1 930.8,1717.8 941.6,1734.0 952.4,1748.1 963.2,1727.5 974.0,1734.7 984.8,1780.6 995.6,1788.2 1006.4,1792.5 1017.2,1782.3 1028.0,1805.5 1038.7,1809.8 1049.5,1826.7 1060.3,1822.8 1071.1,1830.9 1081.9,1827.2 1092.7,1839.1"/>
<line x1="110.3" y1="1943.3" x2="1092.7" y2="1943.3" stroke="#626a73" stroke-width="2.3"/>
<line x1="326.6" y1="1944.3" x2="326.6" y2="1946.9" stroke="#6a6e74" stroke-width="2"/>
<line x1="542.4" y1="1944.3" x2="542.4" y2="1946.9" stroke="#6a6e74" stroke-width="2"/>
<line x1="758.2" y1="1944.3" x2="758.2" y2="1946.9" stroke="#6a6e74" stroke-width="2"/>
<line x1="974.0" y1="1944.3" x2="974.0" y2="1946.9" stroke="#6a6e74" stroke-width="2"/>
<rect x="368.25" y="1970.5" width="18.00" height="17.50" fill="#e0735c"/>
<rect x="491.25" y="1970.5" width="17.50" height="17.50" fill="#6bbaf7"/>
<polygon fill="#555" points="825,1977.6 833.75,1977.6 829.38,1981.8"/>
<rect x="1090.7" y="1655.2" width="1.4" height="1.6" fill="#a8a8a8"/>
</g>
<g id="labels" font-family='"Liberation Sans", sans-serif'>
<text x="90.50" y="36.70" font-size="21.4" fill="#4b4b4b" stroke="#4b4b4b" stroke-width="0.75" textLength="105.84" lengthAdjust="spacingAndGlyphs">197400.00</text>
<text x="243.05" y="36.70" font-size="21.4" fill="#4b4b4b" stroke="#4b4b4b" stroke-width="0.75" textLength="22.40" lengthAdjust="spacingAndGlyphs">84</text>
<text x="395.05" y="36.70" font-size="21.4" fill="#4b4b4b" stroke="#4b4b4b" stroke-width="0.75" textLength="77.12" lengthAdjust="spacingAndGlyphs">40.48 %</text>
<text x="546.82" y="36.70" font-size="21.4" fill="#4b4b4b" stroke="#4b4b4b" stroke-width="0.75" textLength="55.05" lengthAdjust="spacingAndGlyphs">1.691</text>
<text x="699.20" y="36.70" font-size="21.4" fill="#cf3d17" stroke="#cf3d17" stroke-width="0.75" textLength="93.84" lengthAdjust="spacingAndGlyphs">63225.00</text>
<text x="852.00" y="36.70" font-size="21.4" fill="#4b4b4b" stroke="#4b4b4b" stroke-width="0.75" textLength="81.04" lengthAdjust="spacingAndGlyphs">2350.00</text>
<text x="1004.85" y="36.70" font-size="21.4" fill="#4b4b4b" stroke="#4b4b4b" stroke-width="0.75" textLength="23.17" lengthAdjust="spacingAndGlyphs">32</text>
<text x="89.80" y="62.50" font-size="16.8" fill="#555555" textLength="55.43" lengthAdjust="spacingAndGlyphs">197.4 %</text>
<text x="699.90" y="62.50" font-size="16.8" fill="#cf3d17" textLength="54.83" lengthAdjust="spacingAndGlyphs">24.18 %</text>
<text x="852.10" y="62.50" font-size="16.8" fill="#555555" textLength="45.83" lengthAdjust="spacingAndGlyphs">2.35 %</text>
<text x="89.03" y="83.00" font-size="16.3" fill="#a8a8a8" textLength="72.56" lengthAdjust="spacingAndGlyphs">Net Profit</text>
<text x="242.70" y="83.00" font-size="16.3" fill="#a8a8a8" textLength="143.34" lengthAdjust="spacingAndGlyphs">Total Closed Trades</text>
<text x="392.85" y="83.00" font-size="16.3" fill="#a8a8a8" textLength="136.51" lengthAdjust="spacingAndGlyphs">Percent Profitable</text>
<text x="545.64" y="83.00" font-size="16.3" fill="#a8a8a8" textLength="94.25" lengthAdjust="spacingAndGlyphs">Profit Factor</text>
<text x="698.29" y="83.00" font-size="16.3" fill="#a8a8a8" textLength="113.27" lengthAdjust="spacingAndGlyphs">Max Drawdown</text>
<text x="851.90" y="83.00" font-size="16.3" fill="#a8a8a8" textLength="70.65" lengthAdjust="spacingAndGlyphs">Avg Trade</text>
<text x="1003.50" y="83.00" font-size="16.3" fill="#a8a8a8" textLength="95.44" lengthAdjust="spacingAndGlyphs">Avg # Bars in</text>
<text x="89.15" y="555.00" font-size="21.4" fill="#cf3d17" stroke="#cf3d17" stroke-width="0.75" textLength="106.89" lengthAdjust="spacingAndGlyphs">394275.00</text>
<text x="242.09" y="555.00" font-size="21.4" fill="#4b4b4b" stroke="#4b4b4b" stroke-width="0.75" textLength="22.76" lengthAdjust="spacingAndGlyphs">90</text>
<text x="395.85" y="555.00" font-size="21.4" fill="#4b4b4b" stroke="#4b4b4b" stroke-width="0.75" textLength="77.12" lengthAdjust="spacingAndGlyphs">34.44 %</text>
<text x="547.85" y="555.00" font-size="21.4" fill="#cf3d17" stroke="#cf3d17" stroke-width="0.75" textLength="56.75" lengthAdjust="spacingAndGlyphs">0.889</text>
<text x="700.48" y="555.00" font-size="21.4" fill="#cf3d17" stroke="#cf3d17" stroke-width="0.75" textLength="108.26" lengthAdjust="spacingAndGlyphs">935475.00</text>
<text x="855.15" y="555.00" font-size="21.4" fill="#cf3d17" stroke="#cf3d17" stroke-width="0.75" textLength="81.34" lengthAdjust="spacingAndGlyphs">4380.83</text>
<text x="1008.12" y="555.00" font-size="21.4" fill="#4b4b4b" stroke="#4b4b4b" stroke-width="0.75" textLength="24.45" lengthAdjust="spacingAndGlyphs">28</text>
<text x="88.50" y="580.50" font-size="16.8" fill="#cf3d17" textLength="63.93" lengthAdjust="spacingAndGlyphs">394.27 %</text>
<text x="701.00" y="580.50" font-size="16.8" fill="#cf3d17" textLength="65.43" lengthAdjust="spacingAndGlyphs">235.55 %</text>
<text x="855.00" y="580.50" font-size="16.8" fill="#cf3d17" textLength="46.93" lengthAdjust="spacingAndGlyphs">4.38 %</text>
<text x="86.92" y="601.00" font-size="16.3" fill="#a8a8a8" textLength="73.06" lengthAdjust="spacingAndGlyphs">Net Profit</text>
<text x="242.40" y="601.00" font-size="16.3" fill="#a8a8a8" textLength="143.64" lengthAdjust="spacingAndGlyphs">Total Closed Trades</text>
<text x="392.83" y="601.00" font-size="16.3" fill="#a8a8a8" textLength="137.92" lengthAdjust="spacingAndGlyphs">Percent Profitable</text>
<text x="546.42" y="601.00" font-size="16.3" fill="#a8a8a8" textLength="95.66" lengthAdjust="spacingAndGlyphs">Profit Factor</text>
<text x="700.18" y="601.00" font-size="16.3" fill="#a8a8a8" textLength="114.40" lengthAdjust="spacingAndGlyphs">Max Drawdown</text>
<text x="854.50" y="601.00" font-size="16.3" fill="#a8a8a8" textLength="71.55" lengthAdjust="spacingAndGlyphs">Avg Trade</text>
<text x="1008.00" y="601.00" font-size="16.3" fill="#a8a8a8" textLength="95.14" lengthAdjust="spacingAndGlyphs">Avg # Bars in</text>
<text x="87.15" y="1081.10" font-size="21.7" fill="#4b4b4b" stroke="#4b4b4b" stroke-width="0.75" textLength="107.36" lengthAdjust="spacingAndGlyphs">336150.00</text>
<text x="242.35" y="1081.10" font-size="21.7" fill="#4b4b4b" stroke="#4b4b4b" stroke-width="0.75" textLength="22.86" lengthAdjust="spacingAndGlyphs">86</text>
<text x="397.65" y="1081.10" font-size="21.7" fill="#4b4b4b" stroke="#4b4b4b" stroke-width="0.75" textLength="78.28" lengthAdjust="spacingAndGlyphs">39.53 %</text>
<text x="552.58" y="1081.10" font-size="21.7" fill="#4b4b4b" stroke="#4b4b4b" stroke-width="0.75" textLength="58.11" lengthAdjust="spacingAndGlyphs">1.422</text>
<text x="706.59" y="1081.10" font-size="21.7" fill="#cf3d17" stroke="#cf3d17" stroke-width="0.75" textLength="108.42" lengthAdjust="spacingAndGlyphs">202200.00</text>
<text x="863.65" y="1081.10" font-size="21.7" fill="#4b4b4b" stroke="#4b4b4b" stroke-width="0.75" textLength="82.62" lengthAdjust="spacingAndGlyphs">3908.72</text>
<text x="1018.45" y="1081.10" font-size="21.7" fill="#4b4b4b" stroke="#4b4b4b" stroke-width="0.75" textLength="23.54" lengthAdjust="spacingAndGlyphs">32</text>
<text x="86.00" y="1107.10" font-size="17.2" fill="#555555" textLength="66.96" lengthAdjust="spacingAndGlyphs">336.15 %</text>
<text x="707.30" y="1107.10" font-size="17.2" fill="#cf3d17" textLength="56.85" lengthAdjust="spacingAndGlyphs">36.23 %</text>
<text x="862.80" y="1107.10" font-size="17.2" fill="#555555" textLength="47.95" lengthAdjust="spacingAndGlyphs">3.91 %</text>
<text x="85.46" y="1129.30" font-size="16.9" fill="#a8a8a8" textLength="73.52" lengthAdjust="spacingAndGlyphs">Net Profit</text>
<text x="242.00" y="1129.30" font-size="16.9" fill="#a8a8a8" textLength="145.73" lengthAdjust="spacingAndGlyphs">Total Closed Trades</text>
<text x="395.46" y="1129.30" font-size="16.9" fill="#a8a8a8" textLength="139.04" lengthAdjust="spacingAndGlyphs">Percent Profitable</text>
<text x="550.15" y="1129.30" font-size="16.9" fill="#a8a8a8" textLength="96.96" lengthAdjust="spacingAndGlyphs">Profit Factor</text>
<text x="705.51" y="1129.30" font-size="16.9" fill="#a8a8a8" textLength="115.58" lengthAdjust="spacingAndGlyphs">Max Drawdown</text>
<text x="862.50" y="1129.30" font-size="16.9" fill="#a8a8a8" textLength="72.37" lengthAdjust="spacingAndGlyphs">Avg Trade</text>
<text x="1017.30" y="1129.30" font-size="16.9" fill="#a8a8a8" textLength="95.88" lengthAdjust="spacingAndGlyphs">Avg # Bars in</text>
<text x="110.49" y="1622.00" font-size="20.8" fill="#4b4b4b" stroke="#4b4b4b" stroke-width="0.75" textLength="91.86" lengthAdjust="spacingAndGlyphs">24525.00</text>
<text x="259.05" y="1622.00" font-size="20.8" fill="#4b4b4b" stroke="#4b4b4b" stroke-width="0.75" textLength="22.45" lengthAdjust="spacingAndGlyphs">92</text>
<text x="406.35" y="1622.00" font-size="20.8" fill="#4b4b4b" stroke="#4b4b4b" stroke-width="0.75" textLength="74.98" lengthAdjust="spacingAndGlyphs">35.87 %</text>
<text x="552.79" y="1622.00" font-size="20.8" fill="#4b4b4b" stroke="#4b4b4b" stroke-width="0.75" textLength="55.37" lengthAdjust="spacingAndGlyphs">1.029</text>
<text x="701.20" y="1622.00" font-size="20.8" fill="#cf3d17" stroke="#cf3d17" stroke-width="0.75" textLength="103.04" lengthAdjust="spacingAndGlyphs">188100.00</text>
<text x="847.30" y="1622.00" font-size="20.8" fill="#4b4b4b" stroke="#4b4b4b" stroke-width="0.75" textLength="67.05" lengthAdjust="spacingAndGlyphs">266.58</text>
<text x="994.87" y="1622.00" font-size="20.8" fill="#4b4b4b" stroke="#4b4b4b" stroke-width="0.75" textLength="22.63" lengthAdjust="spacingAndGlyphs">27</text>
<text x="110.70" y="1647.00" font-size="16.2" fill="#555555" textLength="54.46" lengthAdjust="spacingAndGlyphs">24.52 %</text>
<text x="700.38" y="1647.00" font-size="16.2" fill="#cf3d17" textLength="62.68" lengthAdjust="spacingAndGlyphs">103.52 %</text>
<text x="847.50" y="1647.00" font-size="16.2" fill="#555555" textLength="45.66" lengthAdjust="spacingAndGlyphs">0.27 %</text>
<text x="109.64" y="1667.00" font-size="15.8" fill="#a8a8a8" textLength="69.71" lengthAdjust="spacingAndGlyphs">Net Profit</text>
<text x="258.70" y="1667.00" font-size="15.8" fill="#a8a8a8" textLength="138.00" lengthAdjust="spacingAndGlyphs">Total Closed Trades</text>
<text x="403.65" y="1667.00" font-size="15.8" fill="#a8a8a8" textLength="132.23" lengthAdjust="spacingAndGlyphs">Percent Profitable</text>
<text x="551.02" y="1667.00" font-size="15.8" fill="#a8a8a8" textLength="92.56" lengthAdjust="spacingAndGlyphs">Profit Factor</text>
<text x="699.00" y="1667.00" font-size="15.8" fill="#a8a8a8" textLength="109.29" lengthAdjust="spacingAndGlyphs">Max Drawdown</text>
<text x="847.50" y="1667.00" font-size="15.8" fill="#a8a8a8" textLength="68.30" lengthAdjust="spacingAndGlyphs">Avg Trade</text>
<text x="994.70" y="1667.00" font-size="15.8" fill="#a8a8a8" textLength="91.37" lengthAdjust="spacingAndGlyphs">Avg # Bars in</text>
<text x="37.90" y="174.80" font-size="15.8" fill="#8cc4f0" textLength="47.21" lengthAdjust="spacingAndGlyphs">250000</text>
<text x="37.90" y="240.60" font-size="15.8" fill="#8cc4f0" textLength="47.21" lengthAdjust="spacingAndGlyphs">200000</text>
<text x="37.90" y="304.00" font-size="15.8" fill="#8cc4f0" textLength="47.21" lengthAdjust="spacingAndGlyphs">150000</text>
<text x="37.90" y="364.80" font-size="15.8" fill="#8cc4f0" textLength="47.21" lengthAdjust="spacingAndGlyphs">100000</text>
<text x="1111.30" y="119.70" font-size="15.4" fill="#e2917f" textLength="8.14" lengthAdjust="spacingAndGlyphs">0</text>
<text x="1111.30" y="177.40" font-size="15.4" fill="#e2917f" textLength="45.59" lengthAdjust="spacingAndGlyphs">-50000</text>
<text x="1111.30" y="242.90" font-size="15.4" fill="#e2917f" textLength="53.73" lengthAdjust="spacingAndGlyphs">-100000</text>
<text x="1111.30" y="307.50" font-size="15.4" fill="#e2917f" textLength="53.73" lengthAdjust="spacingAndGlyphs">-150000</text>
<text x="1111.30" y="365.00" font-size="15.4" fill="#e2917f" textLength="53.73" lengthAdjust="spacingAndGlyphs">-200000</text>
<text x="204.80" y="387.00" font-size="14.4" fill="#7a7a7a" font-weight="bold" textLength="16.00" lengthAdjust="spacingAndGlyphs">10</text>
<text x="327.10" y="387.00" font-size="14.4" fill="#7a7a7a" font-weight="bold" textLength="16.00" lengthAdjust="spacingAndGlyphs">20</text>
<text x="449.40" y="387.00" font-size="14.4" fill="#7a7a7a" font-weight="bold" textLength="16.00" lengthAdjust="spacingAndGlyphs">30</text>
<text x="571.70" y="387.00" font-size="14.4" fill="#7a7a7a" font-weight="bold" textLength="16.00" lengthAdjust="spacingAndGlyphs">40</text>
<text x="694.00" y="387.00" font-size="14.4" fill="#7a7a7a" font-weight="bold" textLength="16.00" lengthAdjust="spacingAndGlyphs">50</text>
<text x="816.30" y="387.00" font-size="14.4" fill="#7a7a7a" font-weight="bold" textLength="16.00" lengthAdjust="spacingAndGlyphs">60</text>
<text x="938.60" y="387.00" font-size="14.4" fill="#7a7a7a" font-weight="bold" textLength="16.00" lengthAdjust="spacingAndGlyphs">70</text>
<text x="1060.90" y="387.00" font-size="14.4" fill="#7a7a7a" font-weight="bold" textLength="16.00" lengthAdjust="spacingAndGlyphs">80</text>
<text x="381.49" y="411.25" font-size="15.0" fill="#757575" textLength="71.86" lengthAdjust="spacingAndGlyphs">Drawdown</text>
<text x="508.98" y="411.25" font-size="15.0" fill="#757575" textLength="42.51" lengthAdjust="spacingAndGlyphs">Equity</text>
<text x="609.48" y="411.25" font-size="15.0" fill="#b4b4b4" textLength="123.01" lengthAdjust="spacingAndGlyphs">Buy &amp; Hold Equity</text>
<text x="764.25" y="411.25" font-size="15.0" fill="#555555" textLength="57.34" lengthAdjust="spacingAndGlyphs">Absolute</text>
<text x="583.99" y="482.00" font-size="30.2" fill="#000" font-family='"Liberation Serif", serif' textLength="33.77" lengthAdjust="spacingAndGlyphs">(a)</text>
<text x="35.70" y="687.00" font-size="15.8" fill="#8cc4f0" textLength="47.01" lengthAdjust="spacingAndGlyphs">200000</text>
<text x="74.87" y="743.40" font-size="15.8" fill="#8cc4f0" textLength="7.83" lengthAdjust="spacingAndGlyphs">0</text>
<text x="31.01" y="800.00" font-size="15.8" fill="#8cc4f0" textLength="51.70" lengthAdjust="spacingAndGlyphs">-200000</text>
<text x="31.01" y="854.80" font-size="15.8" fill="#8cc4f0" textLength="51.70" lengthAdjust="spacingAndGlyphs">-400000</text>
<text x="1116.00" y="639.00" font-size="15.4" fill="#e2917f" textLength="8.19" lengthAdjust="spacingAndGlyphs">0</text>
<text x="1116.00" y="686.60" font-size="15.4" fill="#e2917f" textLength="54.04" lengthAdjust="spacingAndGlyphs">-200000</text>
<text x="1116.00" y="743.90" font-size="15.4" fill="#e2917f" textLength="54.04" lengthAdjust="spacingAndGlyphs">-400000</text>
<text x="1116.00" y="799.30" font-size="15.4" fill="#e2917f" textLength="54.04" lengthAdjust="spacingAndGlyphs">-600000</text>
<text x="1116.00" y="854.40" font-size="15.4" fill="#e2917f" textLength="54.04" lengthAdjust="spacingAndGlyphs">-800000</text>
<text x="310.26" y="907.00" font-size="14.4" fill="#7a7a7a" font-weight="bold" textLength="16.00" lengthAdjust="spacingAndGlyphs">20</text>
<text x="539.92" y="907.00" font-size="14.4" fill="#7a7a7a" font-weight="bold" textLength="16.00" lengthAdjust="spacingAndGlyphs">40</text>
<text x="769.58" y="907.00" font-size="14.4" fill="#7a7a7a" font-weight="bold" textLength="16.00" lengthAdjust="spacingAndGlyphs">60</text>
<text x="999.24" y="907.00" font-size="14.4" fill="#7a7a7a" font-weight="bold" textLength="16.00" lengthAdjust="spacingAndGlyphs">80</text>
<text x="381.48" y="932.00" font-size="15.0" fill="#757575" textLength="72.63" lengthAdjust="spacingAndGlyphs">Drawdown</text>
<text x="509.46" y="932.00" font-size="15.0" fill="#757575" textLength="43.27" lengthAdjust="spacingAndGlyphs">Equity</text>
<text x="610.73" y="932.00" font-size="15.0" fill="#b4b4b4" textLength="123.76" lengthAdjust="spacingAndGlyphs">Buy &amp; Hold Equity</text>
<text x="766.25" y="932.00" font-size="15.0" fill="#555555" textLength="58.59" lengthAdjust="spacingAndGlyphs">Absolute</text>
<text x="583.23" y="1004.70" font-size="30.2" fill="#000" font-family='"Liberation Serif", serif' textLength="34.30" lengthAdjust="spacingAndGlyphs">(b)</text>
<text x="32.90" y="1197.80" font-size="16.4" fill="#8cc4f0" textLength="48.90" lengthAdjust="spacingAndGlyphs">500000</text>
<text x="32.90" y="1259.00" font-size="16.4" fill="#8cc4f0" textLength="48.90" lengthAdjust="spacingAndGlyphs">400000</text>
<text x="32.90" y="1323.30" font-size="16.4" fill="#8cc4f0" textLength="48.90" lengthAdjust="spacingAndGlyphs">300000</text>
<text x="32.90" y="1385.20" font-size="16.4" fill="#8cc4f0" textLength="48.90" lengthAdjust="spacingAndGlyphs">200000</text>
<text x="1126.70" y="1169.00" font-size="16.0" fill="#e2917f" textLength="8.26" lengthAdjust="spacingAndGlyphs">0</text>
<text x="1126.70" y="1223.80" font-size="16.0" fill="#e2917f" textLength="54.51" lengthAdjust="spacingAndGlyphs">-100000</text>
<text x="1126.70" y="1286.10" font-size="16.0" fill="#e2917f" textLength="54.51" lengthAdjust="spacingAndGlyphs">-200000</text>
<text x="1126.70" y="1349.00" font-size="16.0" fill="#e2917f" textLength="54.51" lengthAdjust="spacingAndGlyphs">-300000</text>
<text x="1126.70" y="1410.90" font-size="16.0" fill="#e2917f" textLength="54.51" lengthAdjust="spacingAndGlyphs">-400000</text>
<text x="200.41" y="1450.50" font-size="14.6" fill="#7a7a7a" font-weight="bold" textLength="16.42" lengthAdjust="spacingAndGlyphs">10</text>
<text x="322.07" y="1450.50" font-size="14.6" fill="#7a7a7a" font-weight="bold" textLength="16.42" lengthAdjust="spacingAndGlyphs">20</text>
<text x="443.73" y="1450.50" font-size="14.6" fill="#7a7a7a" font-weight="bold" textLength="16.42" lengthAdjust="spacingAndGlyphs">30</text>
<text x="565.39" y="1450.50" font-size="14.6" fill="#7a7a7a" font-weight="bold" textLength="16.42" lengthAdjust="spacingAndGlyphs">40</text>
<text x="687.05" y="1450.50" font-size="14.6" fill="#7a7a7a" font-weight="bold" textLength="16.42" lengthAdjust="spacingAndGlyphs">50</text>
<text x="808.71" y="1450.50" font-size="14.6" fill="#7a7a7a" font-weight="bold" textLength="16.42" lengthAdjust="spacingAndGlyphs">60</text>
<text x="930.37" y="1450.50" font-size="14.6" fill="#7a7a7a" font-weight="bold" textLength="16.42" lengthAdjust="spacingAndGlyphs">70</text>
<text x="1052.03" y="1450.50" font-size="14.6" fill="#7a7a7a" font-weight="bold" textLength="16.42" lengthAdjust="spacingAndGlyphs">80</text>
<text x="383.50" y="1476.25" font-size="15.6" fill="#757575" textLength="73.42" lengthAdjust="spacingAndGlyphs">Drawdown</text>
<text x="512.73" y="1476.25" font-size="15.6" fill="#757575" textLength="44.06" lengthAdjust="spacingAndGlyphs">Equity</text>
<text x="615.25" y="1476.25" font-size="15.6" fill="#b4b4b4" textLength="126.30" lengthAdjust="spacingAndGlyphs">Buy &amp; Hold Equity</text>
<text x="773.25" y="1476.25" font-size="15.6" fill="#555555" textLength="59.41" lengthAdjust="spacingAndGlyphs">Absolute</text>
<text x="584.00" y="1549.30" font-size="30.2" fill="#000" font-family='"Liberation Serif", serif' textLength="33.56" lengthAdjust="spacingAndGlyphs">(c)</text>
<text x="60.40" y="1706.20" font-size="15.2" fill="#8cc4f0" textLength="46.81" lengthAdjust="spacingAndGlyphs">300000</text>
<text x="60.40" y="1784.60" font-size="15.2" fill="#8cc4f0" textLength="46.81" lengthAdjust="spacingAndGlyphs">200000</text>
<text x="60.40" y="1865.00" font-size="15.2" fill="#8cc4f0" textLength="46.81" lengthAdjust="spacingAndGlyphs">100000</text>
<text x="99.41" y="1939.20" font-size="15.2" fill="#8cc4f0" textLength="7.80" lengthAdjust="spacingAndGlyphs">0</text>
<text x="1098.80" y="1702.70" font-size="14.8" fill="#e2917f" textLength="7.75" lengthAdjust="spacingAndGlyphs">0</text>
<text x="1098.80" y="1773.75" font-size="14.8" fill="#e2917f" textLength="51.12" lengthAdjust="spacingAndGlyphs">-100000</text>
<text x="1098.80" y="1854.60" font-size="14.8" fill="#e2917f" textLength="51.12" lengthAdjust="spacingAndGlyphs">-200000</text>
<text x="1098.80" y="1932.40" font-size="14.8" fill="#e2917f" textLength="51.12" lengthAdjust="spacingAndGlyphs">-300000</text>
<text x="319.40" y="1961.00" font-size="14.0" fill="#7a7a7a" font-weight="bold" textLength="15.39" lengthAdjust="spacingAndGlyphs">20</text>
<text x="535.20" y="1961.00" font-size="14.0" fill="#7a7a7a" font-weight="bold" textLength="15.39" lengthAdjust="spacingAndGlyphs">40</text>
<text x="751.00" y="1961.00" font-size="14.0" fill="#7a7a7a" font-weight="bold" textLength="15.39" lengthAdjust="spacingAndGlyphs">60</text>
<text x="966.80" y="1961.00" font-size="14.0" fill="#7a7a7a" font-weight="bold" textLength="15.39" lengthAdjust="spacingAndGlyphs">80</text>
<text x="393.28" y="1984.75" font-size="15.0" fill="#757575" textLength="68.80" lengthAdjust="spacingAndGlyphs">Drawdown</text>
<text x="516.02" y="1984.75" font-size="15.0" fill="#757575" textLength="40.99" lengthAdjust="spacingAndGlyphs">Equity</text>
<text x="613.27" y="1984.75" font-size="15.0" fill="#b4b4b4" textLength="118.74" lengthAdjust="spacingAndGlyphs">Buy &amp; Hold Equity</text>
<text x="762.50" y="1984.75" font-size="15.0" fill="#555555" textLength="56.58" lengthAdjust="spacingAndGlyphs">Absolute</text>
<text x="583.23" y="2054.30" font-size="30.2" fill="#000" font-family='"Liberation Serif", serif' textLength="34.30" lengthAdjust="spacingAndGlyphs">(d)</text>
</g>
</svg>
</body></html>
